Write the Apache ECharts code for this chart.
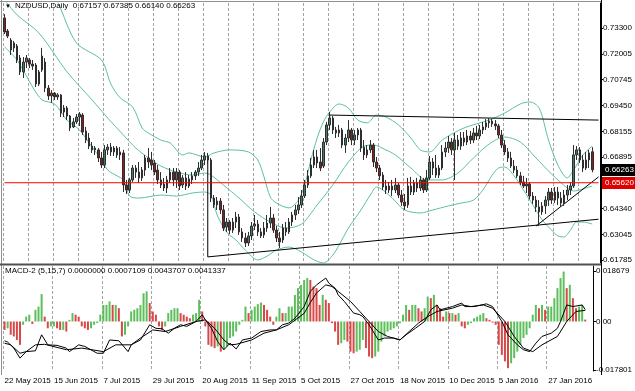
<!DOCTYPE html>
<html><head><meta charset="utf-8">
<script src="https://cdn.jsdelivr.net/npm/echarts@6/dist/echarts.min.js"></script>
<style>html,body{margin:0;padding:0;background:#fff}#c{width:635px;height:391px}</style>
</head><body><div id="c"></div>
<script>
const tickLabels = ['22 May 2015','15 Jun 2015','7 Jul 2015','29 Jul 2015','20 Aug 2015','11 Sep 2015','5 Oct 2015','27 Oct 2015','18 Nov 2015','10 Dec 2015','5 Jan 2016','27 Jan 2016'];
const priceTicks = [0.73300,0.72005,0.70745,0.69450,0.68155,0.66895,0.65620,0.64340,0.63045,0.61785];
const priceLabelTicks = [0.73300,0.72005,0.70745,0.69450,0.68155,0.66895,0.64340,0.63045,0.61785];
const macdTicks = [0.018679,0,-0.017801];
const lastPrice = 0.66263;
const redLevel = 0.65620;

const opens = [
0.7380,0.7315,0.7270,0.7231,0.7241,0.7181,0.7112,0.7161,0.7171,0.7151,
0.7146,0.7052,0.7122,0.7161,0.7032,0.6993,0.7007,0.6988,0.6998,0.6913,
0.6933,0.6893,0.6839,0.6864,0.6888,0.6898,0.6819,0.6784,0.6744,0.6725,
0.6725,0.6685,0.6650,0.6725,0.6739,0.6715,0.6734,0.6700,0.6710,0.6551,
0.6526,0.6576,0.6635,0.6615,0.6586,0.6625,0.6685,0.6675,0.6660,0.6625,
0.6576,0.6556,0.6536,0.6576,0.6615,0.6576,0.6615,0.6551,0.6586,0.6546,
0.6576,0.6596,0.6615,0.6635,0.6675,0.6695,0.6675,0.6486,0.6452,0.6471,
0.6427,0.6342,0.6367,0.6327,0.6367,0.6392,0.6318,0.6288,0.6263,0.6298,
0.6347,0.6357,0.6318,0.6303,0.6337,0.6362,0.6387,0.6327,0.6288,0.6278,
0.6337,0.6318,0.6367,0.6402,0.6427,0.6452,0.6496,0.6551,0.6596,0.6650,
0.6690,0.6665,0.6645,0.6764,0.6849,0.6883,0.6824,0.6809,0.6824,0.6749,
0.6784,0.6824,0.6774,0.6799,0.6824,0.6739,0.6700,0.6725,0.6749,0.6665,
0.6635,0.6600,0.6546,0.6526,0.6546,0.6526,0.6551,0.6501,0.6466,0.6452,
0.6546,0.6516,0.6561,0.6536,0.6576,0.6526,0.6586,0.6665,0.6635,0.6600,
0.6635,0.6715,0.6734,0.6764,0.6725,0.6774,0.6744,0.6784,0.6764,0.6794,
0.6774,0.6809,0.6794,0.6824,0.6839,0.6859,0.6868,0.6854,0.6844,0.6799,
0.6749,0.6715,0.6685,0.6645,0.6625,0.6596,0.6566,0.6546,0.6556,0.6496,
0.6476,0.6442,0.6417,0.6447,0.6476,0.6516,0.6476,0.6516,0.6486,0.6461,
0.6501,0.6526,0.6546,0.6700,0.6725,0.6675,0.6635,0.6675,0.67157];
const closes = [
0.7310,0.7290,0.7221,0.7256,0.7171,0.7112,0.7161,0.7181,0.7151,0.7141,
0.7052,0.7112,0.7191,0.7032,0.6993,0.7007,0.6988,0.6998,0.6908,0.6933,
0.6893,0.6834,0.6864,0.6888,0.6903,0.6814,0.6774,0.6744,0.6725,0.6734,
0.6685,0.6650,0.6725,0.6739,0.6715,0.6734,0.6700,0.6715,0.6551,0.6526,
0.6576,0.6635,0.6615,0.6586,0.6625,0.6685,0.6665,0.6650,0.6615,0.6576,
0.6551,0.6536,0.6576,0.6615,0.6576,0.6615,0.6546,0.6586,0.6546,0.6581,
0.6596,0.6615,0.6635,0.6675,0.6695,0.6675,0.6486,0.6452,0.6471,0.6427,
0.6337,0.6367,0.6327,0.6367,0.6392,0.6318,0.6288,0.6263,0.6298,0.6347,
0.6357,0.6318,0.6298,0.6337,0.6362,0.6387,0.6327,0.6288,0.6268,0.6337,
0.6318,0.6367,0.6402,0.6427,0.6452,0.6496,0.6551,0.6596,0.6650,0.6690,
0.6660,0.6635,0.6764,0.6849,0.6883,0.6824,0.6809,0.6824,0.6749,0.6784,
0.6824,0.6774,0.6799,0.6824,0.6734,0.6700,0.6725,0.6749,0.6665,0.6635,
0.6596,0.6541,0.6526,0.6546,0.6526,0.6551,0.6501,0.6466,0.6447,0.6546,
0.6516,0.6561,0.6536,0.6576,0.6526,0.6586,0.6665,0.6635,0.6600,0.6635,
0.6715,0.6734,0.6764,0.6725,0.6774,0.6744,0.6784,0.6764,0.6794,0.6774,
0.6809,0.6794,0.6824,0.6839,0.6859,0.6868,0.6854,0.6844,0.6799,0.6749,
0.6715,0.6685,0.6645,0.6625,0.6596,0.6566,0.6546,0.6556,0.6496,0.6476,
0.6442,0.6417,0.6447,0.6476,0.6516,0.6476,0.6516,0.6486,0.6461,0.6501,
0.6526,0.6546,0.6700,0.6725,0.6675,0.6635,0.6675,0.6710,0.66263];
const highs = [
0.7399,0.7325,0.7280,0.7266,0.7251,0.7196,0.7186,0.7196,0.7181,0.7171,
0.7156,0.7122,0.7231,0.7181,0.7047,0.7022,0.7012,0.7007,0.7002,0.6948,
0.6943,0.6898,0.6883,0.6903,0.6913,0.6908,0.6839,0.6809,0.6764,0.6744,
0.6734,0.6715,0.6749,0.6754,0.6759,0.6744,0.6744,0.6739,0.6725,0.6576,
0.6586,0.6650,0.6650,0.6665,0.6640,0.6700,0.6734,0.6715,0.6675,0.6650,
0.6615,0.6586,0.6596,0.6635,0.6635,0.6635,0.6625,0.6600,0.6615,0.6600,
0.6615,0.6625,0.6665,0.6700,0.6715,0.6710,0.6685,0.6501,0.6491,0.6486,
0.6452,0.6387,0.6377,0.6387,0.6417,0.6407,0.6337,0.6313,0.6318,0.6367,
0.6402,0.6377,0.6337,0.6367,0.6402,0.6442,0.6407,0.6347,0.6318,0.6357,
0.6367,0.6387,0.6417,0.6452,0.6491,0.6526,0.6576,0.6625,0.6685,0.6725,
0.6725,0.6734,0.6784,0.6864,0.6913,0.6893,0.6839,0.6849,0.6834,0.6804,
0.6873,0.6834,0.6824,0.6834,0.6834,0.6774,0.6749,0.6774,0.6759,0.6690,
0.6650,0.6615,0.6576,0.6566,0.6576,0.6586,0.6561,0.6526,0.6506,0.6586,
0.6591,0.6576,0.6586,0.6596,0.6586,0.6625,0.6695,0.6685,0.6700,0.6650,
0.6749,0.6764,0.6794,0.6784,0.6809,0.6799,0.6814,0.6814,0.6824,0.6819,
0.6834,0.6844,0.6849,0.6864,0.6878,0.6883,0.6878,0.6873,0.6854,0.6824,
0.6774,0.6734,0.6715,0.6675,0.6645,0.6615,0.6596,0.6586,0.6566,0.6516,
0.6496,0.6476,0.6466,0.6496,0.6536,0.6536,0.6541,0.6541,0.6516,0.6526,
0.6551,0.6566,0.6749,0.6744,0.6739,0.6700,0.6715,0.6725,0.67385];
const lows = [
0.7300,0.7280,0.7196,0.7211,0.7156,0.7097,0.7082,0.7131,0.7131,0.7122,
0.7037,0.7042,0.7112,0.7012,0.6973,0.6958,0.6973,0.6973,0.6888,0.6888,
0.6873,0.6819,0.6834,0.6854,0.6844,0.6799,0.6759,0.6729,0.6710,0.6700,
0.6665,0.6635,0.6635,0.6700,0.6695,0.6695,0.6685,0.6675,0.6516,0.6506,
0.6511,0.6566,0.6586,0.6561,0.6571,0.6596,0.6635,0.6625,0.6600,0.6556,
0.6536,0.6521,0.6511,0.6561,0.6546,0.6536,0.6526,0.6536,0.6526,0.6536,
0.6556,0.6576,0.6596,0.6625,0.6650,0.6655,0.6466,0.6437,0.6427,0.6407,
0.6322,0.6318,0.6308,0.6313,0.6337,0.6303,0.6268,0.6243,0.6248,0.6278,
0.6327,0.6298,0.6288,0.6288,0.6318,0.6337,0.6313,0.6268,0.6238,0.6263,
0.6298,0.6308,0.6347,0.6377,0.6407,0.6437,0.6486,0.6536,0.6586,0.6635,
0.6635,0.6620,0.6635,0.6749,0.6824,0.6804,0.6784,0.6789,0.6734,0.6710,
0.6764,0.6749,0.6749,0.6774,0.6715,0.6675,0.6685,0.6710,0.6640,0.6615,
0.6576,0.6526,0.6506,0.6511,0.6496,0.6511,0.6486,0.6447,0.6427,0.6437,
0.6501,0.6501,0.6516,0.6521,0.6511,0.6516,0.6576,0.6600,0.6586,0.6586,
0.6625,0.6690,0.6710,0.6700,0.6576,0.6725,0.6725,0.6744,0.6749,0.6754,
0.6759,0.6774,0.6779,0.6804,0.6824,0.6834,0.6839,0.6824,0.6784,0.6734,
0.6700,0.6665,0.6635,0.6610,0.6586,0.6551,0.6536,0.6511,0.6481,0.6457,
0.6417,0.6347,0.6402,0.6407,0.6447,0.6457,0.6461,0.6452,0.6442,0.6447,
0.6476,0.6501,0.6536,0.6675,0.6660,0.6615,0.6625,0.6635,0.66140];

// Bollinger bands: [bar index, price]
const bandUpper = [[0,0.7965],[17,0.7459],[23,0.7256],[31,0.7171],[34,0.7052],[37,0.6983],[41,0.6938],[44,0.6834],[46,0.6809],[50,0.6774],[53,0.6759],[57,0.6700],[59,0.6710],[64,0.6690],[67,0.6710],[72,0.6725],[78,0.6715],[81,0.6675],[83,0.6591],[85,0.6491],[87,0.6461],[91,0.6437],[94,0.6476],[96,0.6551],[98,0.6675],[100,0.6784],[102,0.6864],[104,0.6913],[107,0.6953],[110,0.6933],[113,0.6873],[116,0.6859],[119,0.6898],[122,0.6888],[126,0.6849],[130,0.6784],[133,0.6725],[136,0.6715],[140,0.6774],[147,0.6834],[155,0.6873],[160,0.6908],[165,0.6953],[168,0.6963],[171,0.6933],[174,0.6774],[177,0.6650],[180,0.6586],[182,0.6625],[185,0.6700],[188,0.6744]];
const bandMiddle = [[0,0.7469],[4,0.7395],[11,0.7305],[20,0.7112],[28,0.6973],[33,0.6883],[38,0.6799],[42,0.6734],[46,0.6685],[50,0.6645],[55,0.6615],[60,0.6600],[64,0.6610],[66,0.6600],[70,0.6551],[75,0.6486],[80,0.6417],[85,0.6367],[90,0.6337],[95,0.6357],[100,0.6452],[105,0.6551],[110,0.6665],[115,0.6744],[118,0.6749],[122,0.6725],[125,0.6700],[130,0.6635],[135,0.6576],[140,0.6576],[145,0.6610],[150,0.6685],[155,0.6754],[160,0.6789],[165,0.6764],[170,0.6685],[175,0.6605],[180,0.6536],[182,0.6521],[185,0.6531],[188,0.6546]];
const bandLower = [[0,0.7236],[4,0.7171],[9,0.7037],[12,0.6973],[16,0.6953],[20,0.6873],[24,0.6824],[28,0.6739],[31,0.6675],[33,0.6625],[36,0.6596],[38,0.6576],[40,0.6496],[43,0.6486],[50,0.6501],[55,0.6496],[60,0.6511],[64,0.6516],[66,0.6501],[68,0.6402],[71,0.6318],[74,0.6278],[77,0.6228],[81,0.6179],[84,0.6198],[87,0.6228],[91,0.6243],[95,0.6218],[99,0.6179],[102,0.6164],[105,0.6203],[107,0.6253],[110,0.6337],[114,0.6427],[117,0.6501],[119,0.6541],[121,0.6526],[124,0.6486],[128,0.6427],[133,0.6412],[137,0.6427],[142,0.6447],[146,0.6461],[150,0.6476],[153,0.6526],[156,0.6600],[158,0.6635],[160,0.6640],[163,0.6596],[166,0.6526],[169,0.6452],[172,0.6377],[175,0.6327],[177,0.6298],[179,0.6293],[181,0.6327],[183,0.6367],[185,0.6367],[188,0.6357]];

const macdHist = [
-0.0031,-0.0025,-0.0049,-0.0055,-0.0068,-0.0086,-0.0012,0.0018,0.0025,-0.0009,
0.0043,0.0055,0.0101,0.0018,-0.0025,-0.0018,-0.0018,-0.0025,-0.0031,-0.0031,
-0.0037,0.0006,0.0031,0.0025,0.0018,-0.0018,-0.0025,-0.0031,-0.0025,-0.0012,
-0.0006,0.0025,0.0061,0.0061,0.0074,0.0061,0.0061,0.0049,-0.0055,-0.0049,
-0.0018,0.0037,0.0043,0.0049,0.0061,0.0104,0.0111,0.0068,0.0037,0.0025,
-0.0018,-0.0031,-0.0018,0.0031,0.0043,0.0049,0.0049,0.0031,0.0025,0.0018,
0.0012,0.0025,0.0031,0.0080,0.0037,-0.0018,-0.0086,-0.0092,-0.0098,-0.0092,
-0.0111,-0.0104,-0.0092,-0.0061,-0.0055,-0.0037,-0.0012,0.0006,0.0055,0.0031,
0.0043,0.0055,0.0064,0.0070,0.0061,0.0043,0.0018,-0.0012,0.0018,0.0049,
0.0031,0.0031,0.0055,0.0055,0.0098,0.0123,0.0135,0.0153,0.0160,0.0153,
0.0129,0.0123,0.0061,0.0098,0.0080,0.0068,-0.0006,-0.0037,-0.0086,-0.0080,
-0.0068,-0.0074,-0.0111,-0.0117,-0.0111,-0.0104,-0.0068,-0.0098,-0.0129,-0.0135,
-0.0129,-0.0111,-0.0074,-0.0055,-0.0037,-0.0031,-0.0025,-0.0018,-0.0006,0.0025,
0.0061,0.0043,0.0061,0.0061,0.0049,0.0037,0.0049,0.0092,0.0086,0.0098,
0.0061,0.0049,0.0018,0.0037,0.0031,0.0031,0.0025,0.0031,-0.0018,-0.0025,
-0.0012,-0.0006,0.0012,0.0018,0.0025,0.0031,0.0012,0.0006,-0.0004,-0.0012,
-0.0086,-0.0123,-0.0147,-0.0172,-0.0154,-0.0135,-0.0111,-0.0086,-0.0061,-0.0049,
-0.0025,0.0025,0.0061,0.0049,0.0061,0.0043,0.0055,0.0055,0.0086,0.0123,
0.0160,0.0184,0.0123,0.0135,0.0086,0.0049,0.0055,0.0061,0.0007];
const macdMain = [[0,-0.0071],[1,-0.0076],[3,-0.0098],[5,-0.0135],[7,-0.0111],[10,-0.0108],[12,-0.0049],[14,-0.0086],[17,-0.0088],[20,-0.0098],[21,-0.0111],[24,-0.0086],[26,-0.0092],[30,-0.0117],[32,-0.0117],[34,-0.0068],[37,-0.0071],[40,-0.0111],[41,-0.0086],[44,-0.0068],[47,-0.0012],[49,-0.0025],[51,-0.0027],[53,-0.0043],[55,-0.0025],[57,-0.0012],[59,-0.0018],[62,0],[64,0.0025],[65,0.0006],[67,-0.0025],[69,-0.0074],[71,-0.0104],[73,-0.0080],[75,-0.0101],[77,-0.0068],[80,-0.0061],[83,-0.0037],[86,-0.0031],[88,-0.0031],[90,-0.0012],[92,-0.0006],[94,0.0012],[97,0.0055],[99,0.0111],[101,0.0135],[104,0.0160],[105,0.0141],[107,0.0123],[108,0.0098],[110,0.0074],[113,0.0031],[115,0.0025],[116,0.0018],[118,-0.0012],[120,-0.0049],[121,-0.0068],[123,-0.0061],[126,-0.0061],[128,-0.0068],[130,-0.0049],[133,-0.0025],[136,0],[138,0.0043],[140,0.0061],[141,0.0043],[145,0.0055],[148,0.0068],[149,0.0055],[152,0.0055],[156,0.0065],[158,0.0055],[161,0],[163,-0.0049],[166,-0.0086],[168,-0.0104],[170,-0.0111],[172,-0.0080],[174,-0.0055],[177,-0.0043],[179,-0.0025],[180,0],[182,0.0061],[184,0.0055],[187,0.0061],[188,0.0044]];
const macdSignal = [[0,-0.0080],[2,-0.0086],[5,-0.0117],[7,-0.0111],[10,-0.0086],[13,-0.0084],[20,-0.0104],[25,-0.0098],[32,-0.0111],[36,-0.0086],[41,-0.0086],[44,-0.0061],[48,-0.0031],[52,-0.0037],[57,-0.0018],[62,0],[65,0.0006],[68,-0.0025],[71,-0.0068],[73,-0.0086],[75,-0.0084],[80,-0.0068],[84,-0.0043],[88,-0.0031],[92,-0.0012],[97,0.0030],[99,0.0070],[101,0.0105],[104,0.0135],[106,0.0129],[108,0.0111],[112,0.0074],[115,0.0037],[118,0],[121,-0.0037],[124,-0.0055],[128,-0.0068],[131,-0.0037],[134,-0.0006],[137,0.0018],[140,0.0037],[145,0.0049],[148,0.0061],[151,0.0055],[155,0.0061],[158,0.0049],[162,0],[165,-0.0055],[168,-0.0098],[171,-0.0111],[174,-0.0086],[179,-0.0055],[182,0],[185,0.0037],[188,0.0041]];

// drawn trend lines: [bar index, price]
const supportVertical = [[65,0.6675],[65,0.6194]];
const supportLine = [[65,0.6194],[190,0.6381]];
const resistVertical = [[104,0.6898],[104,0.6859]];
const resistLine = [[104,0.6898],[190,0.6873]];
const risingLine = [[170,0.6347],[190,0.6591]];

const NBARS = 191;
const PMIN = 0.61637, PMAX = 0.74541;
const GRID_COLOR = '#a4a4a4';
const categories = Array.from({length: NBARS}, (_, i) => String(i));
const candleData = opens.map((o, i) => [o, closes[i], lows[i], highs[i]]);
const histData = macdHist.map((v, i) => ({
  value: v,
  itemStyle: { color: (i > 0 && v >= macdHist[i - 1]) ? '#5cbf5c' : '#d84848' }
}));
const levelLine = (price) => [[0, price], [NBARS - 1, price]];

const FONT = '"Liberation Sans", Arial, sans-serif';
const bandColor = '#5cc19c';
const bandLine = (data) => ({
  type: 'line', xAxisIndex: 0, yAxisIndex: 0, data, symbol: 'none', smooth: 0.3,
  lineStyle: { color: bandColor, width: 1 }, silent: true, z: 2
});
const plainLine = (data, xi, yi, z, color) => ({
  type: 'line', xAxisIndex: xi, yAxisIndex: yi, data, symbol: 'none',
  lineStyle: { color: color || '#000', width: 1 }, silent: true, z: z
});
// one helper y-axis per horizontal level: its single tick sits on that level and draws the split line
const levelAxis = (v, color, dash) => ({
  gridIndex: 0, type: 'value', position: 'right', min: PMIN, max: PMAX, interval: v,
  axisLine: { show: false }, axisTick: { show: false }, axisLabel: { show: false },
  splitLine: { show: true, showMinLine: false, showMaxLine: false, lineStyle: { color, width: 1, type: dash } }
});

const chart = echarts.init(document.getElementById('c'), null, { renderer: 'canvas' });
chart.setOption({
  animation: false,
  backgroundColor: '#fff',
  grid: [
    { left: 3, top: 3, width: 598, height: 260, containLabel: false },
    { left: 3, top: 266, width: 598, height: 105, containLabel: false }
  ],
  xAxis: [
    { gridIndex: 0, type: 'category', data: categories, boundaryGap: true,
      axisLine: { show: false }, axisTick: { show: false }, axisLabel: { show: false },
      splitLine: { show: true, interval: 7, lineStyle: { color: GRID_COLOR, width: 1, type: [3, 2] } } },
    { gridIndex: 1, type: 'category', data: categories, boundaryGap: true,
      axisLine: { show: false }, axisTick: { show: false },
      axisLabel: { show: true, interval: 15, align: 'left', margin: 6, fontSize: 8, fontFamily: FONT, color: '#000',
        formatter: (v, idx) => tickLabels[idx / 16] || '' },
      splitLine: { show: true, interval: 15, lineStyle: { color: GRID_COLOR, width: 1, type: [3, 2] } } }
  ],
  yAxis: [
    { gridIndex: 0, type: 'value', position: 'right', min: PMIN, max: PMAX, scale: true,
      splitLine: { show: false },
      axisLine: { show: true, lineStyle: { color: '#000', width: 1 } },
      axisTick: { show: true, customValues: priceTicks, length: 3, lineStyle: { color: '#000' } },
      axisLabel: { show: true, customValues: priceLabelTicks, formatter: v => v.toFixed(5), fontSize: 8, fontFamily: FONT, color: '#000', margin: 3 } },
    { gridIndex: 1, type: 'value', position: 'right', min: -0.01824, max: 0.02045,
      splitLine: { show: false },
      axisLine: { show: true, lineStyle: { color: '#000', width: 1 } },
      axisTick: { show: true, customValues: macdTicks, length: 3, lineStyle: { color: '#000' } },
      axisLabel: { show: true, customValues: macdTicks, formatter: v => (v === 0 ? '0.00' : v.toFixed(6)), fontSize: 8, fontFamily: FONT, color: '#000', margin: 3 } },
    ...priceTicks.map(v => levelAxis(v, GRID_COLOR, [3, 2])),
    levelAxis(lastPrice, '#b4b4b4', 'solid')
  ],
  series: [
    bandLine(bandUpper),
    bandLine(bandMiddle),
    bandLine(bandLower),
    plainLine(supportVertical, 0, 0, 3),
    plainLine(supportLine, 0, 0, 3),
    plainLine(resistVertical, 0, 0, 3),
    plainLine(resistLine, 0, 0, 3),
    plainLine(risingLine, 0, 0, 3),
    { type: 'candlestick', xAxisIndex: 0, yAxisIndex: 0, data: candleData, barWidth: 2, silent: true, z: 4,
      itemStyle: { color: '#3f8060', color0: '#8b1e1e', borderColor: '#2e2e2e', borderColor0: '#2e2e2e', borderWidth: 1 } },
    plainLine(levelLine(redLevel), 0, 0, 5, '#ff0000'),
    { type: 'bar', xAxisIndex: 1, yAxisIndex: 1, data: histData, barWidth: 2, silent: true, z: 2 },
    plainLine(macdSignal, 1, 1, 3),
    plainLine(macdMain, 1, 1, 3)
  ]
});

// price boxes at the right edge, positioned through the axis scale
const px = v => Math.round(chart.convertToPixel({ yAxisIndex: 0 }, v));
chart.setOption({ graphic: [
  { id: 'bTop', type: 'rect', silent: true, z: 100, shape: { x: 0, y: 1, width: 601, height: 1 }, style: { fill: '#909090' } },
  { id: 'bLeft', type: 'rect', silent: true, z: 100, shape: { x: 1, y: 0, width: 1, height: 375 }, style: { fill: '#909090' } },
  { id: 'bSep', type: 'rect', silent: true, z: 100, shape: { x: 0, y: 263.5, width: 601, height: 2 }, style: { fill: '#505050' } },
  { id: 'bRight', type: 'rect', silent: true, z: 100, shape: { x: 601, y: 0, width: 1, height: 375 }, style: { fill: '#000' } },
  { id: 'tri', type: 'text', silent: true, z: 100, x: 5, y: 3, style: { text: '\u25BC', font: '6px ' + FONT, fill: '#000' } },
  { id: 'title', type: 'text', silent: true, z: 100, x: 15, y: 2, style: { text: 'NZDUSD,Daily  0.67157 0.67385 0.66140 0.66263', font: '8px ' + FONT, fill: '#000' } },
  { id: 'macdTitle', type: 'text', silent: true, z: 100, x: 5, y: 267, style: { text: 'MACD-2 (5,15,7) 0.0000000 0.0007109 0.0043707 0.0041337', font: '8px ' + FONT, fill: '#000' } },
  { id: 'boxLast', type: 'group', silent: true, z: 101, x: 602, y: px(lastPrice) - 6, children: [
    { type: 'rect', z: 101, shape: { x: 0, y: 0, width: 33, height: 12 }, style: { fill: '#000' } },
    { type: 'text', z: 102, x: 3, y: 2, style: { text: lastPrice.toFixed(5), font: '8px ' + FONT, fill: '#fff' } } ] },
  { id: 'boxRed', type: 'group', silent: true, z: 101, x: 602, y: px(redLevel) - 6, children: [
    { type: 'rect', z: 101, shape: { x: 0, y: 0, width: 33, height: 12 }, style: { fill: '#e00000' } },
    { type: 'text', z: 102, x: 3, y: 2, style: { text: redLevel.toFixed(5), font: '8px ' + FONT, fill: '#fff' } } ] }
] });
</script></body></html>
